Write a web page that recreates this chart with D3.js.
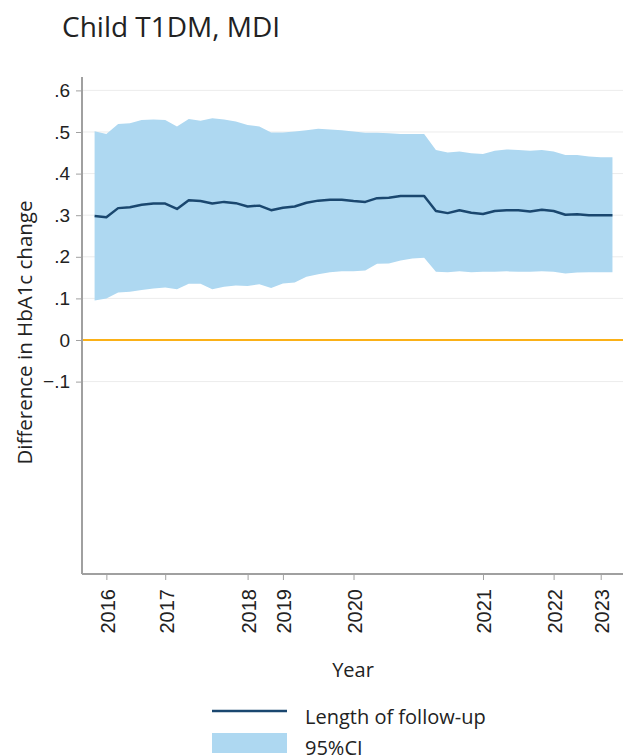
<!DOCTYPE html>
<html>
<head>
<meta charset="utf-8">
<script src="https://cdn.jsdelivr.net/npm/d3@7"></script>
<style>
  body { margin: 0; background: #fff; }
  svg { display: block; font-family: "Open Sans", "Noto Sans", sans-serif; }
  .grid line { stroke: #ececec; stroke-width: 1; }
  .axis path, .axis line { stroke: #a0a0a0; }
</style>
</head>
<body>
<svg id="chart" width="623" height="756"></svg>
<script>
'use strict'

// Period index along the x axis (45 estimates)
const estimate = [
  0.298, 0.295, 0.317, 0.319, 0.325, 0.328, 0.328, 0.315, 0.336, 0.334,
  0.328, 0.332, 0.329, 0.321, 0.323, 0.312, 0.318, 0.321, 0.330, 0.335,
  0.337, 0.337, 0.334, 0.332, 0.341, 0.342, 0.346, 0.346, 0.346, 0.310,
  0.305, 0.312, 0.306, 0.303, 0.310, 0.312, 0.312, 0.309, 0.313, 0.310,
  0.301, 0.302, 0.300, 0.300, 0.300
]
const upperCI = [
  0.502, 0.495, 0.519, 0.521, 0.529, 0.530, 0.529, 0.513, 0.531, 0.527,
  0.533, 0.530, 0.525, 0.517, 0.513, 0.499, 0.499, 0.501, 0.504, 0.508,
  0.506, 0.504, 0.501, 0.498, 0.498, 0.497, 0.495, 0.495, 0.495, 0.457,
  0.451, 0.453, 0.449, 0.447, 0.455, 0.458, 0.457, 0.455, 0.457, 0.453,
  0.445, 0.445, 0.441, 0.439, 0.439
]
const lowerCI = [
  0.095, 0.100, 0.114, 0.116, 0.120, 0.124, 0.126, 0.122, 0.135, 0.135,
  0.122, 0.128, 0.131, 0.130, 0.134, 0.125, 0.136, 0.138, 0.152, 0.158,
  0.163, 0.165, 0.165, 0.167, 0.183, 0.184, 0.191, 0.196, 0.198, 0.164,
  0.163, 0.165, 0.163, 0.164, 0.164, 0.165, 0.164, 0.164, 0.165, 0.164,
  0.160, 0.162, 0.163, 0.163, 0.163
]
// Year labels sit on the first period of each year
const yearTickIndex = [1, 6, 13, 16, 22, 33, 39, 43]
const yearTickLabels = ['2016', '2017', '2018', '2019', '2020', '2021', '2022', '2023']
const yTicks = [-0.1, 0, 0.1, 0.2, 0.3, 0.4, 0.5, 0.6]

const width = 623
const plot = { left: 82, top: 77, bottom: 574, right: 636 }

const svg = d3.select('#chart')

const x = d3.scaleLinear()
  .domain([-1.07, 46])
  .range([plot.left, plot.right])
const y = d3.scaleLinear()
  .domain([-0.5625, 0.6322])
  .range([plot.bottom, plot.top])

const points = estimate.map((v, i) => ({ i, est: v, lo: lowerCI[i], hi: upperCI[i] }))

// Title
svg.append('text')
  .attr('x', 62)
  .attr('y', 37)
  .style('font-size', '28px')
  .style('fill', '#222')
  .text('Child T1DM, MDI')

// Horizontal grid
svg.append('g')
  .attr('class', 'grid')
  .selectAll('line')
  .data(yTicks.filter(t => t !== 0))
  .enter()
  .append('line')
  .attr('x1', plot.left)
  .attr('x2', width)
  .attr('y1', d => y(d))
  .attr('y2', d => y(d))

// Confidence band
svg.append('path')
  .datum(points)
  .attr('fill', '#aed8f1')
  .attr('d', d3.area()
    .x(d => x(d.i))
    .y0(d => y(d.lo))
    .y1(d => y(d.hi)))

// Reference line at zero
svg.append('line')
  .attr('x1', plot.left)
  .attr('x2', width)
  .attr('y1', y(0))
  .attr('y2', y(0))
  .style('stroke', '#fbb117')
  .style('stroke-width', 2)

// Point estimate
svg.append('path')
  .datum(points)
  .attr('fill', 'none')
  .attr('stroke', '#1a476f')
  .attr('stroke-width', 2.5)
  .attr('stroke-linejoin', 'round')
  .attr('d', d3.line()
    .x(d => x(d.i))
    .y(d => y(d.est)))

// Y axis
const yAxis = svg.append('g')
  .attr('class', 'axis')
  .attr('transform', `translate(${plot.left},0)`)
  .call(d3.axisLeft(y)
    .tickValues(yTicks)
    .tickSize(6)
    .tickPadding(6)
    .tickFormat(d => d === 0 ? '0' : d3.format('.1f')(d).replace('0.', '.')))
yAxis.select('.domain').attr('d', `M0,${plot.top}V${plot.bottom}`).style('stroke-width', 2)
yAxis.selectAll('text').style('font-size', '19px').style('fill', '#222')

// X axis
const xAxis = svg.append('g')
  .attr('class', 'axis')
  .attr('transform', `translate(0,${plot.bottom})`)
  .call(d3.axisBottom(x)
    .tickValues(yearTickIndex)
    .tickSize(6)
    .tickFormat((d, i) => yearTickLabels[i]))
xAxis.select('.domain').attr('d', `M${plot.left},0H${width}`).style('stroke-width', 2)
xAxis.selectAll('text')
  .style('font-family', '"Liberation Sans", Arial, sans-serif')
  .style('font-size', '20px')
  .style('fill', '#222')
  .attr('text-anchor', 'end')
  .attr('transform', 'rotate(-90)')
  .attr('x', -15)
  .attr('y', 1)
  .attr('dy', '0.35em')

// Axis titles
svg.append('text')
  .attr('transform', `translate(32,${(198 + 467) / 2}) rotate(-90)`)
  .attr('text-anchor', 'middle')
  .style('font-size', '20.5px')
  .style('fill', '#222')
  .text('Difference in HbA1c change')

svg.append('text')
  .attr('x', 353)
  .attr('y', 677)
  .attr('text-anchor', 'middle')
  .style('font-size', '20px')
  .style('fill', '#222')
  .text('Year')

// Legend
const legend = svg.append('g')
legend.append('line')
  .attr('x1', 212).attr('x2', 287)
  .attr('y1', 711).attr('y2', 711)
  .style('stroke', '#1a476f')
  .style('stroke-width', 2.5)
legend.append('rect')
  .attr('x', 212).attr('y', 733)
  .attr('width', 75).attr('height', 20)
  .style('fill', '#aed8f1')
legend.append('text')
  .attr('x', 305).attr('y', 724)
  .style('font-size', '20px')
  .style('fill', '#222')
  .text('Length of follow-up')
legend.append('text')
  .attr('x', 305).attr('y', 755)
  .style('font-size', '20px')
  .style('fill', '#222')
  .text('95%CI')
</script>
</body>
</html>
